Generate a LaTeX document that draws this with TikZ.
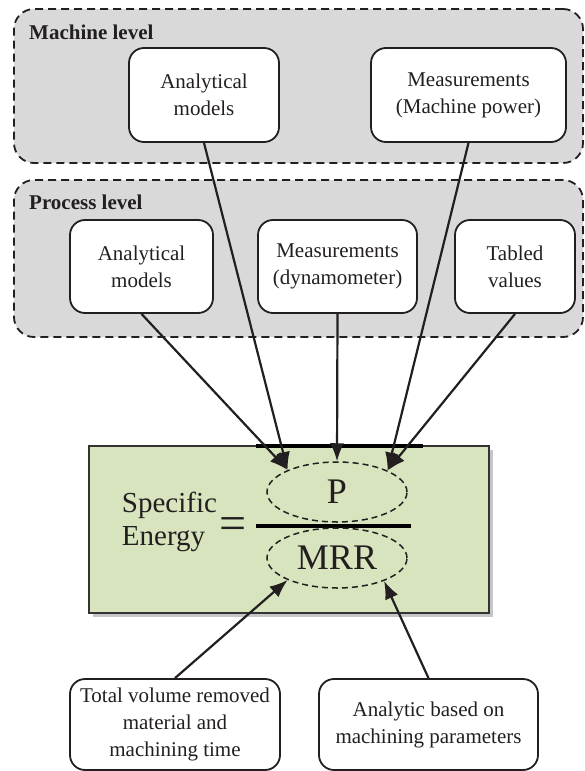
\documentclass[tikz,border=0pt]{standalone}
\usepackage{fontspec}
\setmainfont{Liberation Serif}
\usetikzlibrary{arrows.meta,shapes.geometric,shadows,positioning}
\definecolor{levelgray}{HTML}{D9D9D9}
\definecolor{eqgreen}{HTML}{D7E4BD}
\definecolor{inkgray}{HTML}{231F20}

\begin{document}
\begin{tikzpicture}[x=1pt, y=-1pt, color=inkgray,
    level/.style={draw, dash pattern=on 8pt off 5pt, line width=1.8pt, rounded corners=20pt, fill=levelgray, minimum width=569pt},
    levellabel/.style={font=\fontsize{21}{25}\selectfont\bfseries, anchor=base west, inner sep=0pt},
    srcbox/.style={draw, line width=1.8pt, rounded corners=15pt, fill=white, align=center, font=\fontsize{21}{27}\selectfont},
    term/.style={draw, ellipse, dash pattern=on 6pt off 4pt, line width=1.5pt, minimum width=140pt, minimum height=60pt, inner sep=0pt, font=\fontsize{36}{36}\selectfont},
    arr/.style={-{Latex[length=18pt,width=14pt]}, line width=2.2pt}]
    \useasboundingbox (0,0) rectangle (584,771);

    % levels
    \node[level, minimum height=154pt] (machine) at (298.5,86) {};
    \node[level, minimum height=157pt] (process) at (298.5,258.5) {};
    \node[levellabel] (machinelbl) at (29,39) {Machine level};
    \node[levellabel] (processlbl) at (29,209) {Process level};

    \node[srcbox, minimum width=150pt, minimum height=94pt] (manalyt) at (204,95) {Analytical\\models};
    \node[srcbox, minimum width=195pt, minimum height=94pt] (mpower) at (468.5,95) {Measurements\\(Machine power)};

    \node[srcbox, minimum width=143pt, minimum height=93pt] (panalyt) at (141.5,266.5) {Analytical\\models};
    \node[srcbox, minimum width=159pt, minimum height=93pt] (pdyn) at (337.5,266.5) {Measurements\\(dynamometer)};
    \node[srcbox, minimum width=120pt, minimum height=93pt] (ptable) at (515,266.5) {Tabled\\values};

    % equation
    \node[draw=black!80, line width=1.8pt, fill=eqgreen, minimum width=400pt, minimum height=167pt,
        drop shadow={shadow xshift=4pt, shadow yshift=-4pt, opacity=0.45}] (eqbox) at (289,529.5) {};
    \draw[line width=3.5pt, black] (256,446) -- (423,446);
    \draw[line width=3.5pt, black] (256,526) -- (411,526);
    \node[align=left, inner sep=0pt, font=\fontsize{29}{33}\selectfont] (energy) at (169.5,521.5) {Specific\\Energy};
    \node[inner sep=0pt, anchor=base, font=\fontsize{48}{48}\selectfont] (eq) at (233.5,539) {=};
    \node[term] (P) at (337,492) {P};
    \node[term] (MRR) at (337,558) {MRR};

    \node[srcbox, minimum width=210pt, minimum height=91pt] (volume) at (175,724.5) {Total volume removed\\material and\\machining time};
    \node[srcbox, minimum width=219pt, minimum height=91pt] (params) at (428.5,724.5) {Analytic based on\\machining parameters};

    \draw[arr] (manalyt.south) -- (P.156);
    \draw[arr] (panalyt.south) -- (P.156);
    \draw[arr] (pdyn.south) -- (P.north);
    \draw[arr] (mpower.south) -- (P.23);
    \draw[arr] (ptable.south) -- (P.23);
    \draw[arr] (volume.north) -- (MRR.204);
    \draw[arr] (params.north) -- (MRR.334);
\end{tikzpicture}
\end{document}
